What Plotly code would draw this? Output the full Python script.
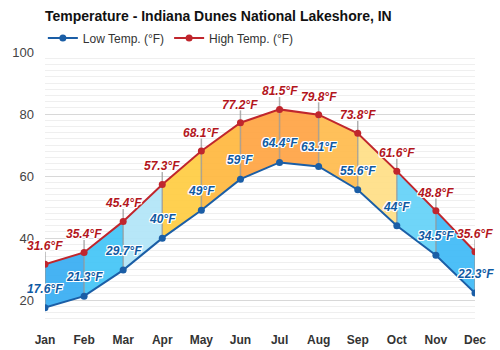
import plotly.graph_objects as go

months = ["Jan", "Feb", "Mar", "Apr", "May", "Jun", "Jul", "Aug", "Sep", "Oct", "Nov", "Dec"]
low = [17.6, 21.3, 29.7, 40, 49, 59, 64.4, 63.1, 55.6, 44, 34.5, 22.3]
high = [31.6, 35.4, 45.4, 57.3, 68.1, 77.2, 81.5, 79.8, 73.8, 61.6, 48.8, 35.6]
low_labels = ["17.6°F", "21.3°F", "29.7°F", "40°F", "49°F", "59°F", "64.4°F", "63.1°F", "55.6°F", "44°F", "34.5°F", "22.3°F"]
high_labels = ["31.6°F", "35.4°F", "45.4°F", "57.3°F", "68.1°F", "77.2°F", "81.5°F", "79.8°F", "73.8°F", "61.6°F", "48.8°F", "35.6°F"]
seg_colors = ["#3aaef2", "#46c6f7", "#b2e6f8", "#ffcd45", "#ffb942", "#ffa645", "#ffa547", "#ffbc50", "#ffdf88", "#66d2f8", "#42bbf6"]

FONT = "Arial, Liberation Sans, sans-serif"
LOW_C = "#1b5ea6"
HIGH_C = "#c0262d"

fig = go.Figure()

# fill segments
for i in range(len(months) - 1):
    fig.add_trace(go.Scatter(
        x=[months[i], months[i + 1], months[i + 1], months[i], months[i]],
        y=[low[i], low[i + 1], high[i + 1], high[i], low[i]],
        fill="toself", fillcolor=seg_colors[i], opacity=0.94,
        mode="lines", line=dict(width=0), hoverinfo="skip", showlegend=False))

# connector lines
cx, cy = [], []
for m, lo, hi in zip(months, low, high):
    cx += [m, m, None]
    cy += [lo, hi + 4, None]
fig.add_trace(go.Scatter(x=cx, y=cy, mode="lines", line=dict(color="rgba(150,150,150,0.75)", width=1.5),
                         hoverinfo="skip", showlegend=False))

fig.add_trace(go.Scatter(x=months, y=low, mode="lines+markers", name="Low Temp. (°F)",
                         line=dict(color=LOW_C, width=2), marker=dict(color=LOW_C, size=7)))
fig.add_trace(go.Scatter(x=months, y=high, mode="lines+markers", name="High Temp. (°F)",
                         line=dict(color=HIGH_C, width=2), marker=dict(color=HIGH_C, size=7)))

shadow = "1px 1px 0 #fff, -1px -1px 0 #fff, 1px -1px 0 #fff, -1px 1px 0 #fff, 0 1px 0 #fff, 0 -1px 0 #fff, 1px 0 0 #fff, -1px 0 0 #fff"
anns = []
for m, v, t in zip(months, high, high_labels):
    anns.append(dict(x=m, y=v, text="<b><i>%s</i></b>" % t, showarrow=False, yshift=18,
                     font=dict(family=FONT, size=12, color="#b3161d", shadow=shadow)))
for m, v, t in zip(months, low, low_labels):
    anns.append(dict(x=m, y=v, text="<b><i>%s</i></b>" % t, showarrow=False, yshift=19,
                     font=dict(family=FONT, size=12, color="#0f5aa3", shadow=shadow)))

fig.update_layout(
    width=500, height=350,
    margin=dict(l=45, r=25, t=52, b=25),
    paper_bgcolor="white", plot_bgcolor="white",
    font=dict(family=FONT, size=12, color="#333"),
    title=dict(text="<b>Temperature - Indiana Dunes National Lakeshore, IN</b>",
               x=0, xref="paper", xanchor="left", y=1 - 16 / 350, yref="container", yanchor="middle",
               font=dict(family=FONT, size=14, color="#111")),
    legend=dict(orientation="h", x=-0.005, xref="paper", xanchor="left", y=1.051, yanchor="middle",
                font=dict(family=FONT, size=12, color="#333"), itemwidth=30),
    annotations=anns,
    xaxis=dict(range=[0, 11], showgrid=False, zeroline=False, showline=False, ticklabelstandoff=6,
               automargin=False,
               tickfont=dict(family=FONT, size=12, color="#333", weight="bold")),
    yaxis=dict(range=[12, 100], dtick=20, tick0=0, gridcolor="#d8d8d8", gridwidth=1, zeroline=False,
               showline=False, ticklabelstandoff=10, automargin=False,
               tickfont=dict(family=FONT, size=13, color="#444"),
               minor=dict(dtick=2, tick0=0, showgrid=True, gridcolor="#efefef", gridwidth=1)),
)

fig.write_html("out.html")
